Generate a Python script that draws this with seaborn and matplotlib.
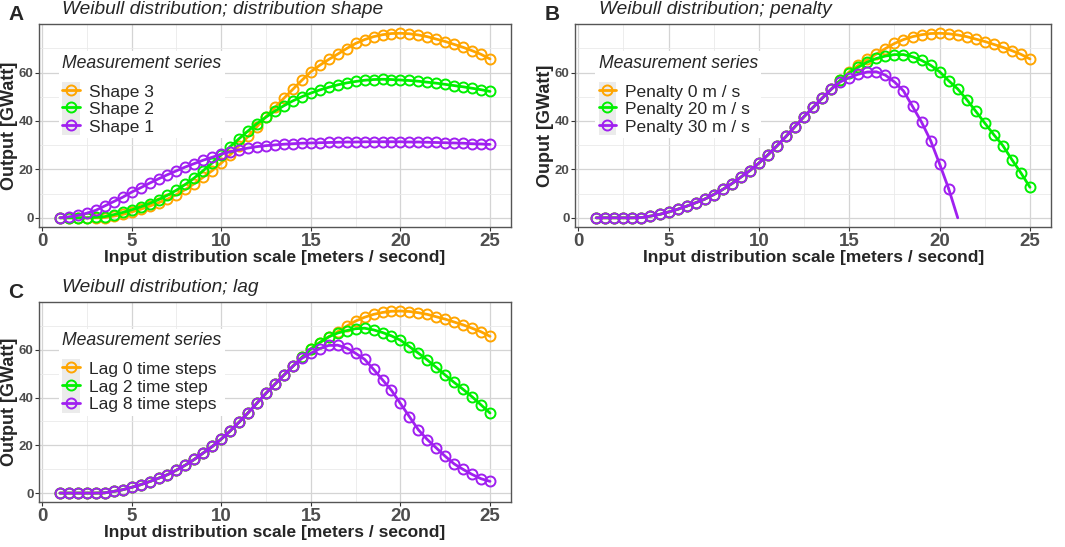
import numpy as np
import pandas as pd
import matplotlib
matplotlib.use("Agg")
import matplotlib.pyplot as plt
import seaborn as sns
from matplotlib.legend_handler import HandlerLine2D
from matplotlib.patches import Rectangle
from matplotlib.ticker import MultipleLocator

# wind speed grid (meters / second)
wind = [1.0, 1.5, 2.0, 2.5, 3.0, 3.5, 4.0, 4.5, 5.0, 5.5, 6.0, 6.5, 7.0, 7.5,
        8.0, 8.5, 9.0, 9.5, 10.0, 10.5, 11.0, 11.5, 12.0, 12.5, 13.0, 13.5,
        14.0, 14.5, 15.0, 15.5, 16.0, 16.5, 17.0, 17.5, 18.0, 18.5, 19.0,
        19.5, 20.0, 20.5, 21.0, 21.5, 22.0, 22.5, 23.0, 23.5, 24.0, 24.5, 25.0]

# reference curve (shape 3 / penalty 0 / lag 0)
base = [0.0, 0.0, 0.0, 0.0, 0.0, 0.1, 0.7, 1.4, 2.4, 3.5, 4.8, 6.2, 7.7, 9.6,
        11.7, 14.1, 16.8, 19.5, 22.6, 26.0, 29.7, 33.6, 37.7, 41.8, 45.6, 49.4,
        53.1, 56.8, 60.3, 63.0, 65.4, 67.6, 69.9, 72.0, 73.6, 74.8, 75.6,
        76.1, 76.2, 76.0, 75.5, 74.8, 73.8, 72.8, 71.6, 70.4, 69.0, 67.5, 65.6]

# panel A: distribution shape
shape2 = [0.0, 0.0, 0.0, 0.0, 0.2, 0.5, 1.3, 2.2, 3.3, 4.5, 5.9, 7.5, 9.3, 11.4,
          13.8, 16.5, 19.5, 22.7, 26.0, 29.4, 32.7, 35.9, 38.9, 41.6, 44.1, 46.3,
          48.3, 50.0, 51.5, 52.8, 53.9, 54.9, 55.7, 56.3, 56.8, 57.1, 57.2,
          57.1, 56.9, 56.7, 56.4, 56.0, 55.6, 55.1, 54.6, 54.1, 53.5, 52.9, 52.2]
shape1 = [0.0, 0.4, 1.0, 1.9, 3.1, 4.9, 6.7, 8.5, 10.6, 12.4, 14.3, 16.1, 17.8,
          19.4, 21.0, 22.4, 23.8, 25.0, 26.3, 27.3, 28.1, 28.8, 29.4, 29.8, 30.1,
          30.4, 30.6, 30.8, 30.9, 31.0, 31.1, 31.2, 31.3, 31.3, 31.4, 31.4, 31.4,
          31.4, 31.4, 31.3, 31.3, 31.2, 31.1, 31.0, 30.9, 30.8, 30.6, 30.5, 30.3]

# panel B: penalty
pen20 = base[:28] + [59.8, 62.2, 64.3, 65.8, 66.8, 67.4, 67.4, 66.5, 65.0,
                     63.0, 60.3, 56.6, 53.2, 48.8, 44.0, 39.1, 34.3, 29.8,
                     24.0, 18.5, 12.6]
pen30 = base[:27] + [56.1, 57.9, 59.3, 60.2, 60.3, 58.9, 56.1, 52.4, 46.0,
                     39.5, 31.9, 22.2, 12.0, 0.0]

# panel C: lag
lag2 = base[:29] + [63.0, 65.4, 67.0, 68.0, 68.8, 69.0, 68.3, 67.2, 65.8,
                    64.0, 61.3, 58.6, 55.7, 52.6, 49.4, 46.3, 43.4, 40.3,
                    36.9, 33.5]
lag8 = base[:27] + [56.4, 58.5, 60.5, 61.8, 61.9, 60.7, 58.5, 56.0, 51.8,
                    47.4, 43.0, 37.5, 32.0, 26.5, 22.4, 18.9, 15.4, 12.2,
                    9.9, 7.8, 6.0, 4.9]

colors = ["#FFA500", "#00F000", "#A020F0"]

panels = [
    ("A", "Weibull distribution; distribution shape", "Output [GWatt]",
     [("Shape 3", base), ("Shape 2", shape2), ("Shape 1", shape1)]),
    ("B", "Weibull distribution; penalty", "Ouput [GWatt]",
     [("Penalty 0 m / s", base), ("Penalty 20 m / s", pen20),
      ("Penalty 30 m / s", pen30)]),
    ("C", "Weibull distribution; lag", "Output [GWatt]",
     [("Lag 0 time steps", base), ("Lag 2 time step", lag2),
      ("Lag 8 time steps", lag8)]),
]

boxes = [
    [0.0366, 0.585, 0.4432, 0.371],
    [0.5400, 0.585, 0.4470, 0.371],
    [0.0366, 0.082, 0.4432, 0.366],
]


class KeyHandler(HandlerLine2D):
    # ggplot style key with grey background square
    def create_artists(self, legend, orig_handle, xdescent, ydescent,
                       width, height, fontsize, trans):
        arts = super().create_artists(legend, orig_handle, xdescent, ydescent,
                                      width, height, fontsize, trans)
        bg = Rectangle((-xdescent, -ydescent - 1), width, height + 2,
                       facecolor="#EBEBEB", edgecolor="none", transform=trans)
        return [bg] + arts


sns.set_style("white")
plt.rcParams["font.family"] = ["Liberation Sans", "DejaVu Sans"]

fig = plt.figure(figsize=(10.65, 5.47), dpi=100)

for (letter, title, ylab, series), box in zip(panels, boxes):
    ax = fig.add_axes(box)
    for (name, vals), col in zip(series, colors):
        xs = wind[:len(vals)]
        if name == "Penalty 30 m / s":
            # the last segment reaches zero without a marker
            sns.lineplot(x=xs[-2:], y=vals[-2:], color=col, lw=2.0, ax=ax)
            xs, vals = xs[:-1], vals[:-1]
        sns.lineplot(x=xs, y=vals, color=col, lw=2.0, marker="o", ms=7.2,
                     mfc="none", mec=col, mew=1.4, ax=ax, label=name)

    ax.set_xlim(-0.17, 26.17)
    ax.set_ylim(-3.8, 80.0)
    ax.xaxis.set_major_locator(MultipleLocator(5))
    ax.xaxis.set_minor_locator(MultipleLocator(2.5))
    ax.set_yticks([0, 20, 40, 60])
    ax.set_yticks([10, 30, 50, 70], minor=True)
    ax.grid(True, which="major", color="#D4D4D4", lw=0.9)
    ax.grid(True, which="minor", color="#EAEAEA", lw=0.6)
    ax.set_axisbelow(True)
    for sp in ax.spines.values():
        sp.set_color("#555555")
        sp.set_linewidth(1.0)
    ax.tick_params(which="major", length=3, width=0.8, color="#333333",
                   direction="out", bottom=True, left=True, pad=1.5)
    ax.tick_params(axis="y", pad=1)
    ax.tick_params(which="minor", length=0)
    ax.tick_params(axis="x", labelsize=13.5, labelcolor="#4D4D4D")
    ax.tick_params(axis="y", labelsize=9.5, labelcolor="#4D4D4D")
    for t in ax.get_xticklabels() + ax.get_yticklabels():
        t.set_fontweight("bold")

    ax.set_xlabel("Input distribution scale [meters / second]", fontsize=12.5,
                  fontweight="bold", labelpad=0)
    ax.set_ylabel(ylab, fontsize=13, fontweight="bold")
    ax.yaxis.set_label_coords(-0.044, 0.5)

    handles, labels = ax.get_legend_handles_labels()
    leg = ax.legend(handles, labels, title="Measurement series",
                    loc="upper left", bbox_to_anchor=(0.042, 0.865),
                    borderaxespad=0, frameon=True, fancybox=False,
                    facecolor="white", edgecolor="none", framealpha=1,
                    fontsize=12.5, title_fontsize=12.7, alignment="left",
                    handlelength=1.0, handleheight=1.0, handletextpad=0.55,
                    labelspacing=0.05, borderpad=0.2,
                    handler_map={matplotlib.lines.Line2D: KeyHandler()})
    leg.get_title().set_fontstyle("italic")
    leg._legend_box.sep = 8

    x0, y0, w, h = box
    fig.text(x0 - 0.029, y0 + h + 0.018, letter, fontsize=15,
             fontweight="bold", va="center", ha="left")
    fig.text(x0 + 0.022, y0 + h + 0.026, title, fontsize=13.8,
             fontstyle="italic", va="center", ha="left")

fig.savefig("out.png", dpi=100)
